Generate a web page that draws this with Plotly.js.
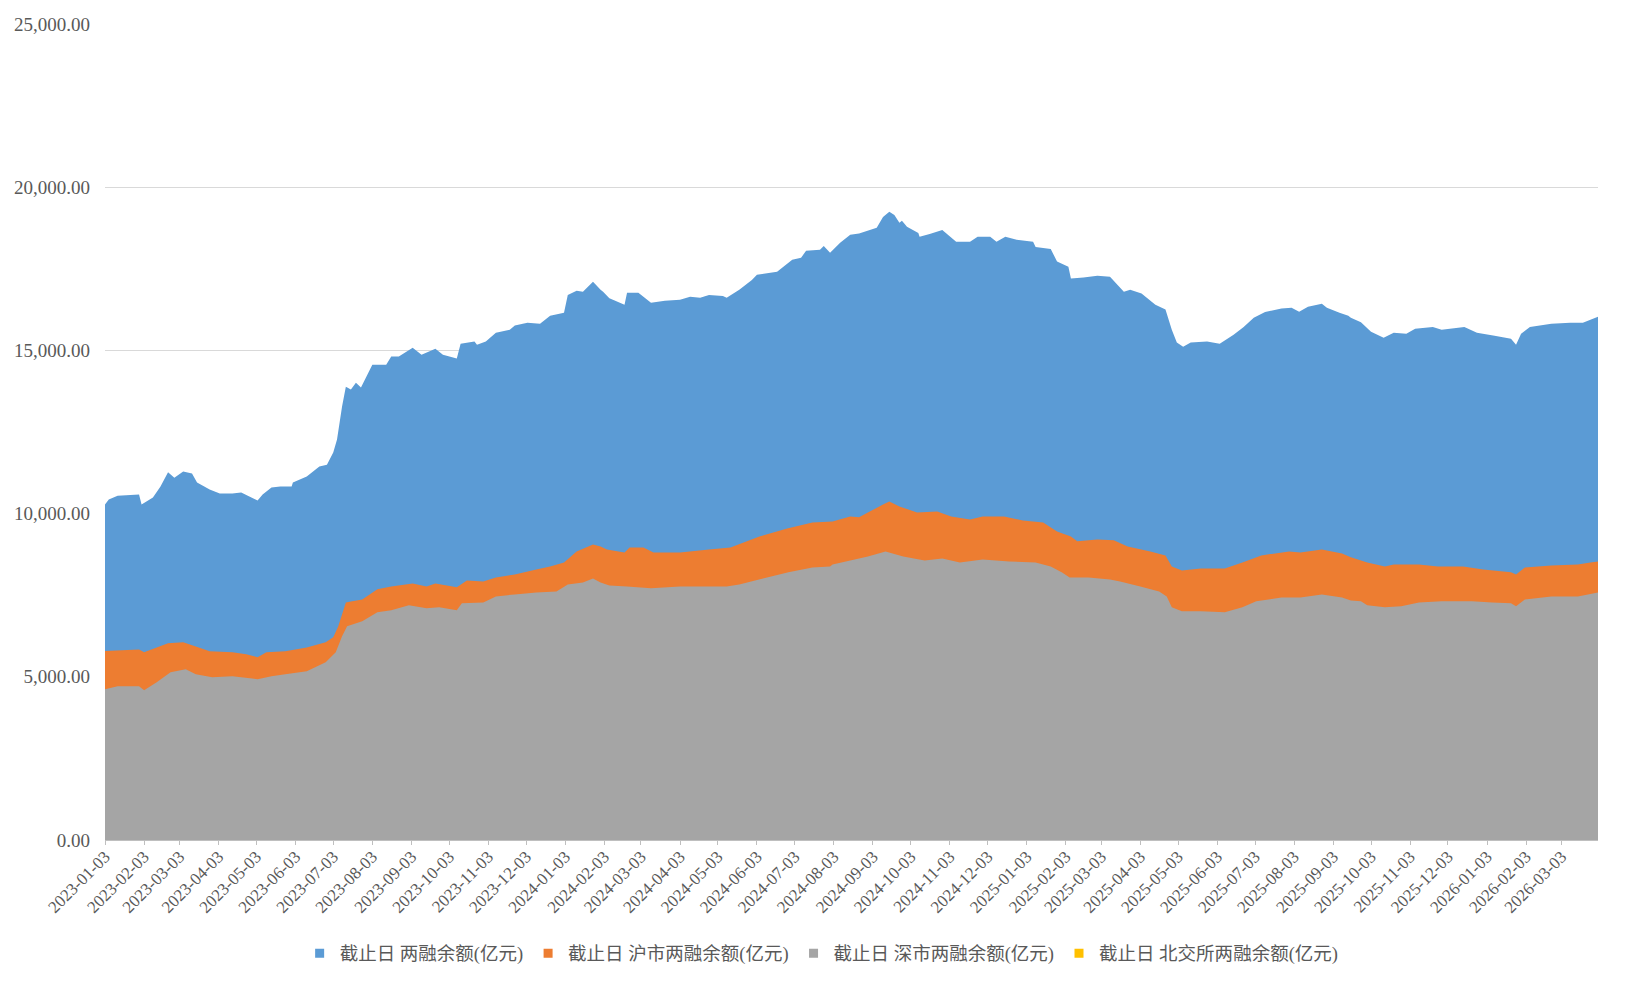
<!DOCTYPE html>
<html><head><meta charset="utf-8">
<script src="https://cdn.plot.ly/plotly-3.0.1.min.js"></script>
<style>html,body{margin:0;padding:0;background:#fff}#chart{width:1634px;height:984px}</style>
</head><body><div id="chart"></div>
<script>
const seriesNames = ["截止日 两融余额(亿元)", "截止日 沪市两融余额(亿元)", "截止日 深市两融余额(亿元)", "截止日 北交所两融余额(亿元)"];
const seriesColors = ["#5B9BD5", "#ED7D31", "#A5A5A5", "#FFC000"];

const totalDates = ["2023-01-03","2023-01-06","2023-01-13","2023-01-30","2023-02-01","2023-02-10","2023-02-16","2023-02-22","2023-02-27","2023-03-06","2023-03-13","2023-03-17","2023-03-27","2023-04-04","2023-04-14","2023-04-21","2023-05-04","2023-05-08","2023-05-15","2023-05-22","2023-05-31","2023-06-01","2023-06-12","2023-06-22","2023-06-28","2023-07-03","2023-07-06","2023-07-10","2023-07-13","2023-07-17","2023-07-21","2023-07-25","2023-08-03","2023-08-14","2023-08-18","2023-08-24","2023-09-04","2023-09-11","2023-09-22","2023-09-28","2023-10-09","2023-10-12","2023-10-23","2023-10-25","2023-11-01","2023-11-09","2023-11-20","2023-11-24","2023-12-04","2023-12-14","2023-12-22","2024-01-02","2024-01-05","2024-01-12","2024-01-17","2024-01-25","2024-01-31","2024-02-02","2024-02-07","2024-02-19","2024-02-21","2024-03-01","2024-03-11","2024-03-22","2024-04-03","2024-04-11","2024-04-19","2024-04-26","2024-05-07","2024-05-10","2024-05-20","2024-05-30","2024-06-03","2024-06-19","2024-07-01","2024-07-08","2024-07-12","2024-07-23","2024-07-26","2024-07-31","2024-08-08","2024-08-16","2024-08-23","2024-09-06","2024-09-11","2024-09-16","2024-09-20","2024-09-24","2024-09-26","2024-09-30","2024-10-09","2024-10-10","2024-10-18","2024-10-28","2024-11-08","2024-11-19","2024-11-25","2024-12-05","2024-12-10","2024-12-17","2024-12-26","2025-01-08","2025-01-10","2025-01-22","2025-01-27","2025-02-05","2025-02-07","2025-02-17","2025-02-28","2025-03-10","2025-03-21","2025-03-26","2025-04-04","2025-04-15","2025-04-23","2025-04-28","2025-05-02","2025-05-07","2025-05-13","2025-05-26","2025-06-05","2025-06-16","2025-06-24","2025-07-02","2025-07-11","2025-07-24","2025-08-01","2025-08-07","2025-08-14","2025-08-25","2025-08-29","2025-09-08","2025-09-15","2025-09-17","2025-09-25","2025-10-03","2025-10-13","2025-10-21","2025-10-31","2025-11-07","2025-11-21","2025-11-28","2025-12-16","2025-12-26","2026-01-09","2026-01-22","2026-01-26","2026-01-30","2026-02-06","2026-02-23","2026-03-10","2026-03-20","2026-03-26","2026-04-01"];
const totalValues = [10280,10430,10550,10585,10280,10490,10830,11270,11100,11290,11230,10950,10740,10615,10615,10646,10400,10585,10800,10830,10830,10950,11135,11440,11500,11870,12270,13280,13890,13800,14010,13860,14560,14560,14810,14810,15080,14870,15050,14870,14750,15200,15270,15175,15270,15540,15630,15760,15850,15820,16060,16150,16700,16830,16800,17100,16860,16800,16600,16400,16770,16770,16460,16520,16550,16640,16610,16700,16670,16610,16860,17160,17320,17410,17780,17840,18050,18080,18200,17990,18300,18540,18580,18755,19090,19245,19150,18910,18970,18790,18600,18480,18570,18690,18330,18330,18480,18480,18330,18480,18390,18330,18170,18110,17720,17560,17200,17230,17290,17256,16800,16860,16740,16400,16250,15630,15240,15110,15240,15270,15200,15480,15720,16000,16180,16280,16310,16185,16340,16430,16310,16150,16060,16000,15860,15570,15390,15540,15510,15660,15720,15630,15720,15540,15450,15360,15175,15510,15720,15820,15850,15850,15940,16030];

const shDates = ["2023-01-03","2023-01-30","2023-02-03","2023-02-22","2023-03-06","2023-03-16","2023-03-27","2023-04-14","2023-04-25","2023-05-04","2023-05-11","2023-05-26","2023-06-12","2023-06-27","2023-07-03","2023-07-07","2023-07-13","2023-07-17","2023-07-26","2023-08-07","2023-08-18","2023-09-04","2023-09-15","2023-09-22","2023-10-09","2023-10-17","2023-10-30","2023-11-09","2023-11-24","2023-12-11","2023-12-22","2024-01-02","2024-01-12","2024-01-25","2024-01-31","2024-02-05","2024-02-19","2024-02-23","2024-03-05","2024-03-13","2024-04-03","2024-04-26","2024-05-13","2024-06-05","2024-06-27","2024-07-17","2024-08-02","2024-08-16","2024-08-23","2024-08-30","2024-09-11","2024-09-16","2024-09-24","2024-10-08","2024-10-24","2024-11-04","2024-11-19","2024-11-29","2024-12-16","2024-12-31","2025-01-16","2025-01-27","2025-02-07","2025-02-12","2025-02-28","2025-03-13","2025-03-24","2025-04-11","2025-04-23","2025-04-28","2025-05-06","2025-05-21","2025-06-09","2025-06-23","2025-07-08","2025-07-30","2025-08-08","2025-08-25","2025-09-10","2025-09-17","2025-09-30","2025-10-14","2025-10-21","2025-11-10","2025-11-25","2025-12-15","2025-12-31","2026-01-22","2026-01-26","2026-02-02","2026-02-23","2026-03-16","2026-03-26","2026-04-01"];
const shValues = [5790,5840,5750,6025,6056,5930,5780,5750,5690,5600,5750,5780,5900,6056,6210,6546,7280,7310,7372,7680,7770,7860,7770,7860,7740,7950,7920,8045,8137,8290,8380,8500,8840,9055,8993,8900,8810,8963,8963,8810,8810,8900,8963,9300,9540,9730,9760,9910,9890,10030,10280,10370,10220,10034,10064,9910,9820,9910,9910,9790,9730,9450,9300,9150,9210,9180,8990,8840,8720,8380,8260,8320,8320,8500,8720,8840,8810,8900,8780,8660,8500,8380,8440,8440,8380,8380,8290,8200,8137,8350,8410,8440,8500,8535];

const szDates = ["2023-01-03","2023-01-13","2023-01-30","2023-02-03","2023-02-13","2023-02-24","2023-03-08","2023-03-16","2023-03-29","2023-04-14","2023-04-28","2023-05-04","2023-05-15","2023-05-26","2023-06-12","2023-06-27","2023-07-05","2023-07-10","2023-07-14","2023-07-26","2023-08-07","2023-08-18","2023-09-01","2023-09-15","2023-09-25","2023-10-09","2023-10-13","2023-10-30","2023-11-09","2023-11-24","2023-12-11","2023-12-27","2024-01-05","2024-01-17","2024-01-25","2024-01-31","2024-02-07","2024-02-21","2024-03-11","2024-04-03","2024-05-10","2024-05-20","2024-06-11","2024-06-28","2024-07-17","2024-07-31","2024-08-02","2024-08-16","2024-08-23","2024-08-30","2024-09-13","2024-09-27","2024-10-14","2024-10-28","2024-11-11","2024-11-29","2024-12-20","2025-01-10","2025-01-22","2025-01-31","2025-02-06","2025-02-21","2025-03-10","2025-03-18","2025-04-03","2025-04-18","2025-04-24","2025-04-28","2025-05-06","2025-05-21","2025-06-09","2025-06-23","2025-07-04","2025-07-24","2025-08-08","2025-08-25","2025-09-10","2025-09-17","2025-09-25","2025-09-30","2025-10-14","2025-10-27","2025-11-10","2025-11-28","2025-12-22","2026-01-07","2026-01-22","2026-01-26","2026-02-02","2026-02-23","2026-03-16","2026-04-01"];
const szValues = [4620,4710,4710,4590,4830,5140,5230,5080,4985,5016,4954,4924,5016,5077,5170,5444,5750,6240,6546,6700,6975,7036,7190,7100,7130,7036,7250,7280,7464,7525,7586,7617,7830,7890,8015,7892,7800,7770,7710,7770,7770,7830,8045,8200,8350,8380,8443,8565,8626,8687,8841,8687,8565,8626,8504,8596,8535,8504,8382,8198,8045,8045,7984,7923,7770,7617,7464,7128,7005,7005,6975,7128,7311,7433,7433,7525,7433,7341,7311,7189,7128,7158,7280,7311,7311,7280,7250,7158,7372,7464,7464,7586];

const bjDates = [];
const bjValues = [];

const tickLabels = ["2023-01-03","2023-02-03","2023-03-03","2023-04-03","2023-05-03","2023-06-03","2023-07-03","2023-08-03","2023-09-03","2023-10-03","2023-11-03","2023-12-03","2024-01-03","2024-02-03","2024-03-03","2024-04-03","2024-05-03","2024-06-03","2024-07-03","2024-08-03","2024-09-03","2024-10-03","2024-11-03","2024-12-03","2025-01-03","2025-02-03","2025-03-03","2025-04-03","2025-05-03","2025-06-03","2025-07-03","2025-08-03","2025-09-03","2025-10-03","2025-11-03","2025-12-03","2026-01-03","2026-02-03","2026-03-03"];
const yTicks = [0, 5000, 10000, 15000, 20000, 25000];

const seriesX = [totalDates, shDates, szDates, bjDates];
const seriesY = [totalValues, shValues, szValues, bjValues];

const traces = [];
for (let i = 0; i < 4; i++) {
  traces.push({
    type: "scatter", x: seriesX[i], y: seriesY[i], mode: "none",
    fill: "tozeroy", fillcolor: seriesColors[i], name: seriesNames[i],
    showlegend: false, hoverinfo: "x+y"
  });
}
for (let i = 0; i < 4; i++) {
  traces.push({
    type: "scatter", x: [null], y: [null], mode: "markers", name: seriesNames[i],
    marker: {symbol: "square", size: 9, color: seriesColors[i]}, showlegend: true
  });
}

const serif = "Liberation Serif, Noto Sans CJK SC, serif";
const layout = {
  width: 1634, height: 984,
  paper_bgcolor: "#ffffff", plot_bgcolor: "#ffffff",
  margin: {l: 105, r: 36, t: 24, b: 143},
  showlegend: true,
  legend: {orientation: "h", x: 0.48, xanchor: "center", y: -0.138, yanchor: "middle",
    font: {family: serif, size: 18.5, color: "#595959"}, itemwidth: 30, tracegroupgap: 0},
  xaxis: {
    type: "date", range: ["2023-01-03", "2026-04-01"],
    tickmode: "array", tickvals: tickLabels, ticktext: tickLabels, tickangle: -45,
    ticks: "outside", ticklen: 4, tickcolor: "#bfbfbf", ticklabelstandoff: -5,
    showline: true, linecolor: "#bfbfbf", linewidth: 1,
    showgrid: false, zeroline: false,
    tickfont: {family: serif, size: 17, color: "#595959"}
  },
  yaxis: {
    range: [0, 25000], tickmode: "array", tickvals: yTicks, tickformat: ",.2f",
    showgrid: true, gridcolor: "#d9d9d9", gridwidth: 1, zeroline: false,
    showline: false, ticks: "", ticklabelstandoff: 14,
    tickfont: {family: serif, size: 19, color: "#595959"}
  }
};
Plotly.newPlot("chart", traces, layout, {displayModeBar: false, staticPlot: true});
</script></body></html>
